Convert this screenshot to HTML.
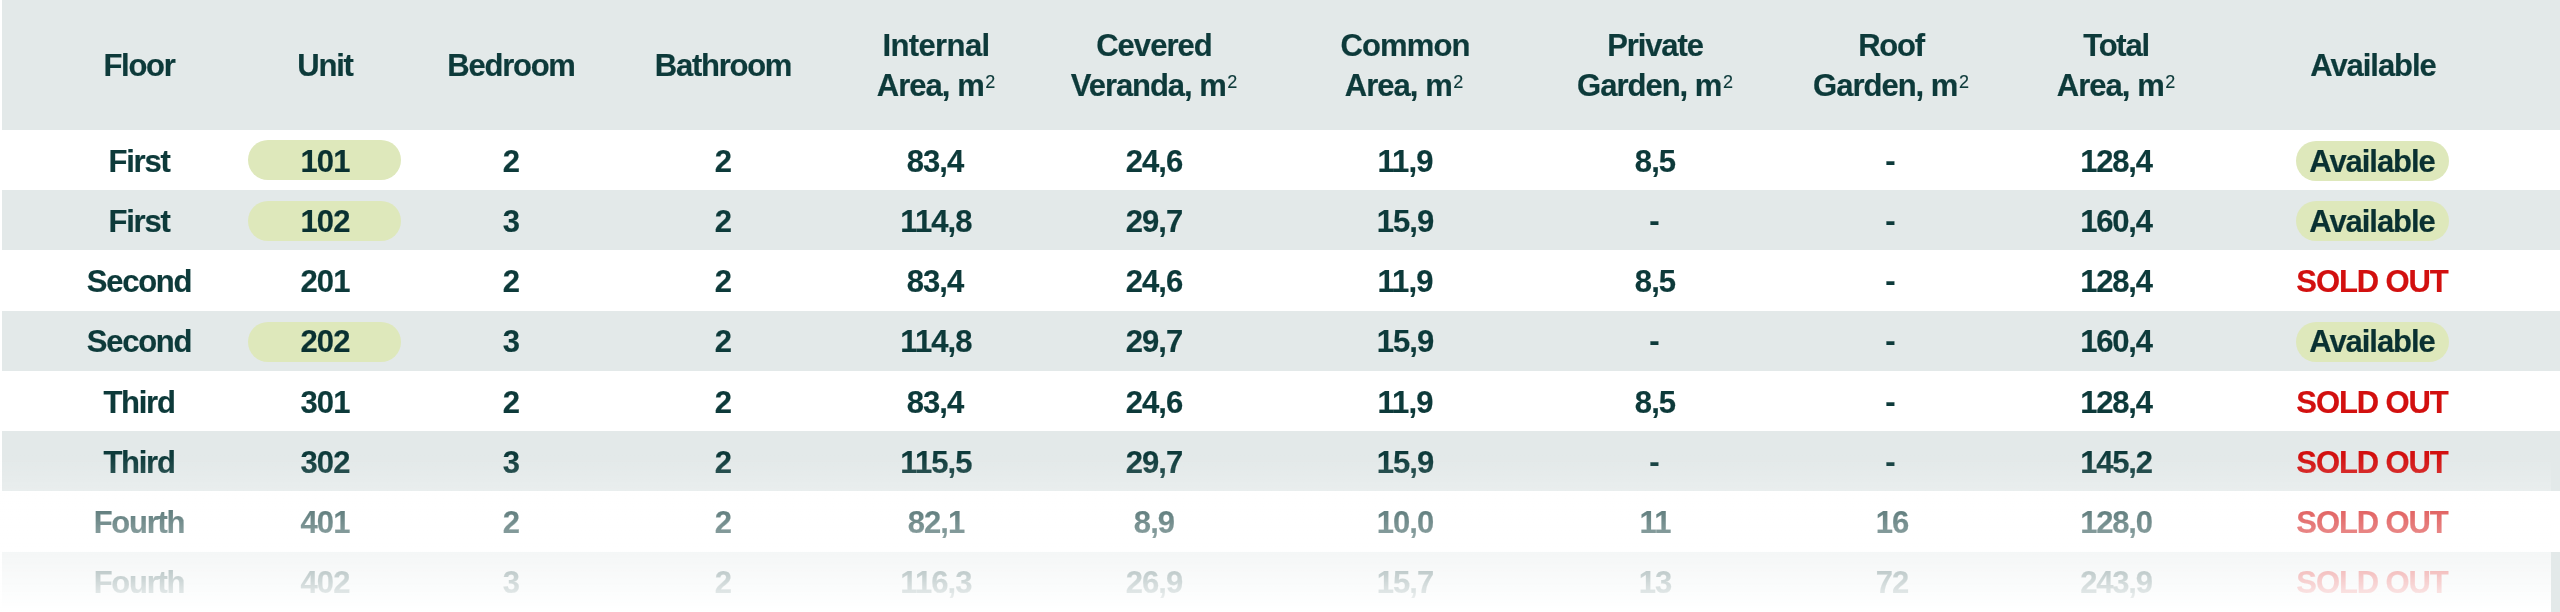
<!DOCTYPE html>
<html lang="en">
<head>
<meta charset="utf-8">
<title>Availability table</title>
<style>
html,body{margin:0;padding:0;background:#fff;}
body{width:2560px;height:612px;overflow:hidden;position:relative;font-family:"Liberation Sans",sans-serif;font-weight:700;font-size:31px;color:#0d3a3a;letter-spacing:-1.25px;-webkit-text-stroke:0.2px currentColor;}
.band{position:absolute;left:2px;width:2558px;background:#e3e9e9;}
.c{position:absolute;will-change:transform;width:300px;text-align:center;white-space:nowrap;line-height:40px;height:40px;}
.pill{position:absolute;height:40px;border-radius:20px;background:#dee8bb;}
.so{color:#d2100f;}
.p{color:#0a3131;}
.n{letter-spacing:-0.9px;}
sup{font-weight:400;-webkit-text-stroke:0.15px currentColor;font-size:18px;letter-spacing:0;vertical-align:baseline;position:relative;top:-8px;line-height:0;margin-left:1.5px;}
.fade{position:absolute;left:0;top:455px;width:2551px;height:157px;background:linear-gradient(to bottom,rgba(255,255,255,0) 0%,rgba(255,255,255,1) 100%);}
</style>
</head>
<body>
<div class="band" style="top:0;height:130px"></div>
<div class="band" style="top:190px;height:60px"></div>
<div class="band" style="top:311px;height:60px"></div>
<div class="band" style="top:431px;height:60px"></div>
<div class="band" style="top:552px;height:60px"></div>
<div class="c" style="left:-11.0px;top:45.70px">Floor</div>
<div class="c" style="left:175.3px;top:45.70px">Unit</div>
<div class="c" style="left:361.0px;top:45.70px">Bedroom</div>
<div class="c" style="left:573.0px;top:45.70px">Bathroom</div>
<div class="c" style="left:786.4px;top:25.70px;letter-spacing:-0.6px">Internal</div>
<div class="c" style="left:786.0px;top:65.50px;letter-spacing:-0.95px">Area, m<sup>2</sup></div>
<div class="c" style="left:1004.0px;top:25.70px;letter-spacing:-0.95px">Cevered</div>
<div class="c" style="left:1004.0px;top:65.50px;letter-spacing:-1.05px">Veranda, m<sup>2</sup></div>
<div class="c" style="left:1255.0px;top:25.70px;letter-spacing:-0.85px">Common</div>
<div class="c" style="left:1254.4px;top:65.50px;letter-spacing:-0.95px">Area, m<sup>2</sup></div>
<div class="c" style="left:1505.3px;top:25.70px;letter-spacing:-1.1px">Private</div>
<div class="c" style="left:1505.3px;top:65.50px;letter-spacing:-1.0px">Garden, m<sup>2</sup></div>
<div class="c" style="left:1740.9px;top:25.70px">Roof</div>
<div class="c" style="left:1740.9px;top:65.50px;letter-spacing:-1.0px">Garden, m<sup>2</sup></div>
<div class="c" style="left:1965.8px;top:25.70px">Total</div>
<div class="c" style="left:1965.9px;top:65.50px;letter-spacing:-0.95px">Area, m<sup>2</sup></div>
<div class="c" style="left:2222.6px;top:45.70px;letter-spacing:-1.05px">Available</div>
<div class="c" style="left:-10.8px;top:141.50px">First</div>
<div class="pill" style="left:248px;width:153px;top:140px"></div>
<div class="c p n" style="left:174.6px;top:141.50px">101</div>
<div class="c n" style="left:361.0px;top:141.50px">2</div>
<div class="c n" style="left:573.0px;top:141.50px">2</div>
<div class="c n" style="left:785.3px;top:141.50px">83,4</div>
<div class="c n" style="left:1004.0px;top:141.50px">24,6</div>
<div class="c n" style="left:1255.0px;top:141.50px">11,9</div>
<div class="c n" style="left:1504.7px;top:141.50px">8,5</div>
<div class="c n" style="left:1740.0px;top:140.50px">-</div>
<div class="c n" style="left:1965.9px;top:141.50px;letter-spacing:-1.2px">128,4</div>
<div class="pill" style="left:2296px;width:153px;top:141px"></div>
<div class="c p" style="left:2221.8px;top:141.50px;letter-spacing:-1.05px">Available</div>
<div class="c" style="left:-10.8px;top:201.50px">First</div>
<div class="pill" style="left:248px;width:153px;top:201px"></div>
<div class="c p n" style="left:174.6px;top:201.50px">102</div>
<div class="c n" style="left:361.0px;top:201.50px">3</div>
<div class="c n" style="left:573.0px;top:201.50px">2</div>
<div class="c n" style="left:785.9px;top:201.50px">114,8</div>
<div class="c n" style="left:1004.0px;top:201.50px">29,7</div>
<div class="c n" style="left:1255.0px;top:201.50px">15,9</div>
<div class="c n" style="left:1504.1px;top:200.50px">-</div>
<div class="c n" style="left:1740.0px;top:200.50px">-</div>
<div class="c n" style="left:1965.9px;top:201.50px;letter-spacing:-1.2px">160,4</div>
<div class="pill" style="left:2296px;width:153px;top:201px"></div>
<div class="c p" style="left:2221.8px;top:201.50px;letter-spacing:-1.05px">Available</div>
<div class="c" style="left:-10.8px;top:261.50px">Second</div>
<div class="c n" style="left:174.6px;top:261.50px">201</div>
<div class="c n" style="left:361.0px;top:261.50px">2</div>
<div class="c n" style="left:573.0px;top:261.50px">2</div>
<div class="c n" style="left:785.3px;top:261.50px">83,4</div>
<div class="c n" style="left:1004.0px;top:261.50px">24,6</div>
<div class="c n" style="left:1255.0px;top:261.50px">11,9</div>
<div class="c n" style="left:1504.7px;top:261.50px">8,5</div>
<div class="c n" style="left:1740.0px;top:260.50px">-</div>
<div class="c n" style="left:1965.9px;top:261.50px;letter-spacing:-1.2px">128,4</div>
<div class="c so" style="left:2222.3px;top:261.50px;letter-spacing:-1.1px">SOLD OUT</div>
<div class="c" style="left:-10.8px;top:321.50px">Second</div>
<div class="pill" style="left:248px;width:153px;top:322px"></div>
<div class="c p n" style="left:174.6px;top:321.50px">202</div>
<div class="c n" style="left:361.0px;top:321.50px">3</div>
<div class="c n" style="left:573.0px;top:321.50px">2</div>
<div class="c n" style="left:785.9px;top:321.50px">114,8</div>
<div class="c n" style="left:1004.0px;top:321.50px">29,7</div>
<div class="c n" style="left:1255.0px;top:321.50px">15,9</div>
<div class="c n" style="left:1504.1px;top:320.50px">-</div>
<div class="c n" style="left:1740.0px;top:320.50px">-</div>
<div class="c n" style="left:1965.9px;top:321.50px;letter-spacing:-1.2px">160,4</div>
<div class="pill" style="left:2296px;width:153px;top:322px"></div>
<div class="c p" style="left:2221.8px;top:321.50px;letter-spacing:-1.05px">Available</div>
<div class="c" style="left:-10.8px;top:382.50px">Third</div>
<div class="c n" style="left:174.6px;top:382.50px">301</div>
<div class="c n" style="left:361.0px;top:382.50px">2</div>
<div class="c n" style="left:573.0px;top:382.50px">2</div>
<div class="c n" style="left:785.3px;top:382.50px">83,4</div>
<div class="c n" style="left:1004.0px;top:382.50px">24,6</div>
<div class="c n" style="left:1255.0px;top:382.50px">11,9</div>
<div class="c n" style="left:1504.7px;top:382.50px">8,5</div>
<div class="c n" style="left:1740.0px;top:381.50px">-</div>
<div class="c n" style="left:1965.9px;top:382.50px;letter-spacing:-1.2px">128,4</div>
<div class="c so" style="left:2222.3px;top:382.50px;letter-spacing:-1.1px">SOLD OUT</div>
<div class="c" style="left:-10.8px;top:442.50px">Third</div>
<div class="c n" style="left:174.6px;top:442.50px">302</div>
<div class="c n" style="left:361.0px;top:442.50px">3</div>
<div class="c n" style="left:573.0px;top:442.50px">2</div>
<div class="c n" style="left:786.3px;top:442.50px">115,5</div>
<div class="c n" style="left:1004.0px;top:442.50px">29,7</div>
<div class="c n" style="left:1255.0px;top:442.50px">15,9</div>
<div class="c n" style="left:1504.1px;top:441.50px">-</div>
<div class="c n" style="left:1740.0px;top:441.50px">-</div>
<div class="c n" style="left:1965.9px;top:442.50px;letter-spacing:-1.2px">145,2</div>
<div class="c so" style="left:2222.3px;top:442.50px;letter-spacing:-1.1px">SOLD OUT</div>
<div class="c" style="left:-10.8px;top:502.50px">Fourth</div>
<div class="c n" style="left:174.6px;top:502.50px">401</div>
<div class="c n" style="left:361.0px;top:502.50px">2</div>
<div class="c n" style="left:573.0px;top:502.50px">2</div>
<div class="c n" style="left:786.3px;top:502.50px">82,1</div>
<div class="c n" style="left:1004.0px;top:502.50px">8,9</div>
<div class="c n" style="left:1255.0px;top:502.50px">10,0</div>
<div class="c n" style="left:1504.7px;top:502.50px">11</div>
<div class="c n" style="left:1741.5px;top:502.50px">16</div>
<div class="c n" style="left:1965.9px;top:502.50px;letter-spacing:-1.2px">128,0</div>
<div class="c so" style="left:2222.3px;top:502.50px;letter-spacing:-1.1px">SOLD OUT</div>
<div class="c" style="left:-10.8px;top:562.50px">Fourth</div>
<div class="c n" style="left:174.6px;top:562.50px">402</div>
<div class="c n" style="left:361.0px;top:562.50px">3</div>
<div class="c n" style="left:573.0px;top:562.50px">2</div>
<div class="c n" style="left:786.3px;top:562.50px">116,3</div>
<div class="c n" style="left:1004.0px;top:562.50px">26,9</div>
<div class="c n" style="left:1255.0px;top:562.50px">15,7</div>
<div class="c n" style="left:1504.7px;top:562.50px">13</div>
<div class="c n" style="left:1741.5px;top:562.50px">72</div>
<div class="c n" style="left:1965.9px;top:562.50px;letter-spacing:-1.2px">243,9</div>
<div class="c so" style="left:2222.3px;top:562.50px;letter-spacing:-1.1px">SOLD OUT</div>
<div class="fade"></div>
</body>
</html>
